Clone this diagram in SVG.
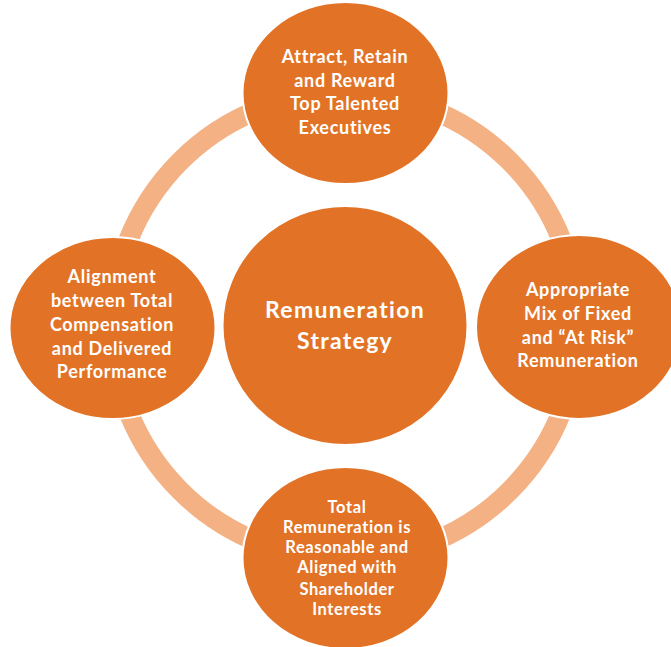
<svg xmlns="http://www.w3.org/2000/svg" width="671" height="647" viewBox="0 0 671 647">
<style>
.node{fill:#E27326;stroke:#FFFFFF;stroke-width:2}
.lbl{font-family:Lato,"Open Sans","Liberation Sans",sans-serif;font-weight:bold;fill:#FFFFFF;text-anchor:middle;font-size:18px;letter-spacing:0.7px}
.big{font-size:23px;letter-spacing:1.3px}
.sm{font-size:16.5px;letter-spacing:0.6px}
</style>
<rect width="671" height="647" fill="#FFFFFF"/>
<g id="connectors">
<circle cx="345" cy="326" r="233" fill="none" stroke="#F4B183" stroke-width="20"/>
</g>
<g id="center">
<ellipse class="node" cx="345" cy="325.5" rx="122.5" ry="119.5"/>
<text class="lbl big" x="345" y="318">Remuneration</text>
<text class="lbl big" x="345" y="349">Strategy</text>
</g>
<g id="top">
<ellipse class="node" cx="345.5" cy="93" rx="103" ry="91"/>
<text class="lbl" x="345" y="63">Attract, Retain</text>
<text class="lbl" x="345" y="87">and Reward</text>
<text class="lbl" x="345" y="110">Top Talented</text>
<text class="lbl" x="345" y="134">Executives</text>
</g>
<g id="right">
<ellipse class="node" cx="579" cy="327" rx="103" ry="92"/>
<text class="lbl" x="578" y="296">Appropriate</text>
<text class="lbl" x="578" y="320">Mix of Fixed</text>
<text class="lbl" x="578" y="344">and “At Risk”</text>
<text class="lbl" x="578" y="367">Remuneration</text>
</g>
<g id="left">
<ellipse class="node" cx="112.5" cy="328" rx="103" ry="91"/>
<text class="lbl" x="112" y="283">Alignment</text>
<text class="lbl" x="112" y="307">between Total</text>
<text class="lbl" x="112" y="331">Compensation</text>
<text class="lbl" x="112" y="355">and Delivered</text>
<text class="lbl" x="112" y="378">Performance</text>
</g>
<g id="bottom">
<ellipse class="node" cx="345.5" cy="558" rx="103" ry="91"/>
<text class="lbl sm" x="347" y="513">Total</text>
<text class="lbl sm" x="347" y="533">Remuneration is</text>
<text class="lbl sm" x="347" y="553">Reasonable and</text>
<text class="lbl sm" x="347" y="573">Aligned with</text>
<text class="lbl sm" x="347" y="595">Shareholder</text>
<text class="lbl sm" x="347" y="615">Interests</text>
</g>
</svg>
